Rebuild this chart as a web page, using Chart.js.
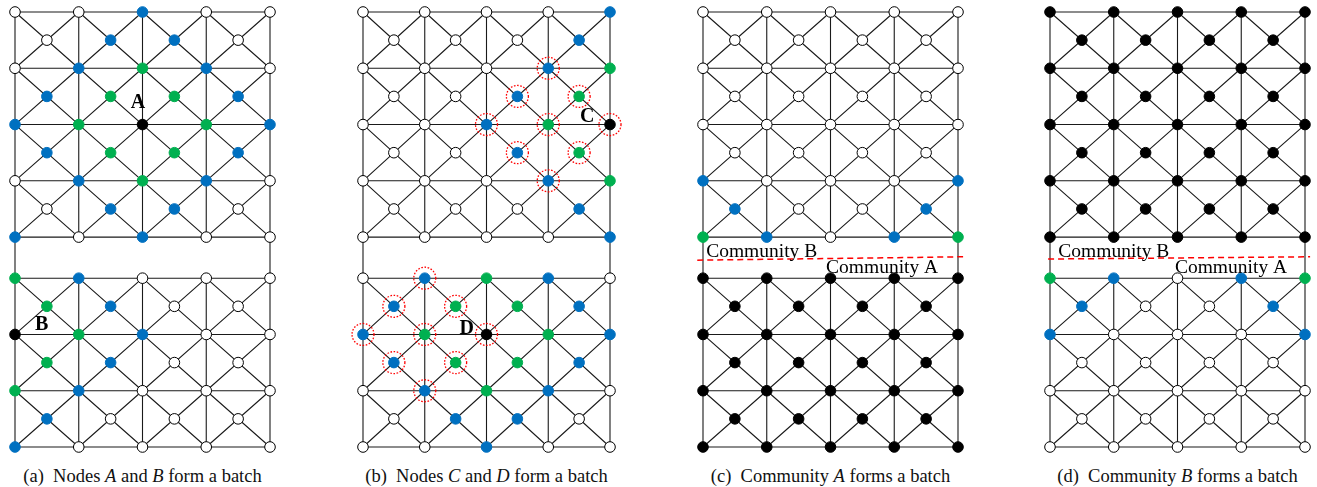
<!DOCTYPE html>
<html>
<head>
<meta charset="utf-8">
<script src="https://cdn.jsdelivr.net/npm/chart.js@4/dist/chart.umd.min.js"></script>
<style>
  body { margin: 0; background: #fff; }
  #wrap { position: relative; width: 1317px; height: 487px; overflow: hidden; }
  .panel { position: absolute; }
  .cap { position: absolute; top: 466px; width: 340px; text-align: center;
         font-family: "Liberation Serif", serif; font-size: 18.5px; color: #111; white-space: pre; }
</style>
</head>
<body>
<div id="wrap"></div>
<script>
// row levels of the graph (top block rows 0-4, bottom block rows 5-8)
const rowY = [0, 1, 2, 3, 4, 4.73, 5.73, 6.73, 7.73];
// cells: pairs of row indices
const cellRows = [[0, 1], [1, 2], [2, 3], [3, 4], [5, 6], [6, 7], [7, 8]];

// node colours: w white, b blue, g green, k black
const cornersA = ["wwbww", "wbgbw", "bgkgb", "wbgbw", "bwbww", "gbwww", "kgbww", "gbwww", "bwwww"];
const centersA = ["wbbw", "bggb", "bggb", "wbbw", "gbww", "gbww", "bwww"];

const cornersB = ["wwwwb", "wwwbg", "wwbgk", "wwwbg", "wwwwb", "wbgbw", "bgkgb", "wbgbw", "wwbww"];
const centersB = ["wwwb", "wwbg", "wwbg", "wwwb", "bggb", "bggb", "wbbw"];
// circled nodes in (b): [column, row level]
const ringsB = [[3, 1], [2.5, 1.5], [3.5, 1.5], [2, 2], [3, 2], [4, 2], [2.5, 2.5], [3.5, 2.5], [3, 3],
                [1, 4.73], [0.5, 5.23], [1.5, 5.23], [0, 5.73], [1, 5.73], [2, 5.73], [0.5, 6.23], [1.5, 6.23], [1, 6.73]];

const cornersC = ["wwwww", "wwwww", "wwwww", "bwwwb", "gbwbg", "kkkkk", "kkkkk", "kkkkk", "kkkkk"];
const centersC = ["wwww", "wwww", "wwww", "bwwb", "kkkk", "kkkk", "kkkk"];

const cornersD = ["kkkkk", "kkkkk", "kkkkk", "kkkkk", "kkkkk", "gbwbg", "bwwwb", "wwwww", "wwwww"];
const centersD = ["kkkk", "kkkk", "kkkk", "kkkk", "bwwb", "wwww", "wwww"];

const dividerC = [{x: -0.09, y: 4.41}, {x: 4.08, y: 4.35}];
const dividerD = [{x: -0.03, y: 4.39}, {x: 4.08, y: 4.35}];

const fills = { w: "#ffffff", b: "#0070c0", g: "#00b050", k: "#000000" };

function buildEdges() {
  const pts = [];
  const seg = (x1, y1, x2, y2) => pts.push({x: x1, y: y1}, {x: x2, y: y2}, {x: null, y: null});
  rowY.forEach(y => { for (let c = 0; c < 4; c++) seg(c, y, c + 1, y); });
  cellRows.forEach(([r1, r2]) => {
    for (let c = 0; c <= 4; c++) seg(c, rowY[r1], c, rowY[r2]);
    for (let c = 0; c < 4; c++) {
      seg(c, rowY[r1], c + 1, rowY[r2]);
      seg(c + 1, rowY[r1], c, rowY[r2]);
    }
  });
  // links between the two blocks
  seg(0, rowY[4], 0, rowY[5]);
  seg(4, rowY[4], 4, rowY[5]);
  return pts;
}

function buildNodes(corners, centers) {
  const pts = [], bg = [], bd = [];
  const add = (x, y, k) => { pts.push({x, y}); bg.push(fills[k]); bd.push(k === "w" ? "#000" : fills[k]); };
  corners.forEach((row, r) => row.split("").forEach((k, c) => add(c, rowY[r], k)));
  centers.forEach((row, i) => {
    const [r1, r2] = cellRows[i];
    row.split("").forEach((k, c) => add(c + 0.5, (rowY[r1] + rowY[r2]) / 2, k));
  });
  return {pts, bg, bd};
}

// text labels and dotted rings drawn at data coordinates
const annot = {
  id: "annot",
  afterDatasetsDraw(chart, args, opts) {
    const {ctx, scales: {x, y}} = chart;
    ctx.save();
    (opts.rings || []).forEach(([cx, cy]) => {
      ctx.beginPath();
      ctx.setLineDash([1.6, 1.6]);
      ctx.strokeStyle = "#ff0000";
      ctx.lineWidth = 1.3;
      ctx.arc(x.getPixelForValue(cx), y.getPixelForValue(cy), 11, 0, Math.PI * 2);
      ctx.stroke();
    });
    ctx.setLineDash([]);
    (opts.labels || []).forEach(l => {
      ctx.font = l.font;
      ctx.fillStyle = "#000";
      ctx.textAlign = l.align;
      ctx.textBaseline = "middle";
      ctx.fillText(l.text, x.getPixelForValue(l.x), y.getPixelForValue(l.y));
    });
    ctx.restore();
  }
};

const bold = 'bold 20px "Liberation Serif"';
const comm = '19.5px "Liberation Serif"';

const panels = [
  {left: 15, right: 270, corners: cornersA, centers: centersA, rings: [], divider: null,
   labels: [{text: "A", x: 1.93, y: 1.62, font: bold, align: "center"},
            {text: "B", x: 0.42, y: 5.56, font: bold, align: "center"}],
   caption: "(a)  Nodes <i>A</i> and <i>B</i> form a batch"},
  {left: 363, right: 610, corners: cornersB, centers: centersB, rings: ringsB, divider: null,
   labels: [{text: "C", x: 3.63, y: 1.87, font: bold, align: "center"},
            {text: "D", x: 1.68, y: 5.63, font: bold, align: "center"}],
   caption: "(b)  Nodes <i>C</i> and <i>D</i> form a batch"},
  {left: 703, right: 958, corners: cornersC, centers: centersC, rings: [], divider: dividerC,
   labels: [{text: "Community B", x: 0.05, y: 4.27, font: comm, align: "left"},
            {text: "Community A", x: 1.93, y: 4.55, font: comm, align: "left"}],
   caption: "(c)  Community <i>A</i> forms a batch"},
  {left: 1050, right: 1305, corners: cornersD, centers: centersD, rings: [], divider: dividerD,
   labels: [{text: "Community B", x: 0.13, y: 4.27, font: comm, align: "left"},
            {text: "Community A", x: 1.96, y: 4.55, font: comm, align: "left"}],
   caption: "(d)  Community <i>B</i> forms a batch"}
];

const wrap = document.getElementById("wrap");
const padX = 22, padY = 14, topPx = 12, bottomPx = 447;

panels.forEach(p => {
  const box = document.createElement("div");
  box.className = "panel";
  box.style.left = (p.left - padX) + "px";
  box.style.top = (topPx - padY) + "px";
  box.style.width = (p.right - p.left + 2 * padX) + "px";
  box.style.height = (bottomPx - topPx + 2 * padY) + "px";
  const cv = document.createElement("canvas");
  box.appendChild(cv);
  wrap.appendChild(box);

  const cap = document.createElement("div");
  cap.className = "cap";
  cap.style.left = ((p.left + p.right) / 2 - 170) + "px";
  cap.innerHTML = p.caption;
  wrap.appendChild(cap);

  const nodes = buildNodes(p.corners, p.centers);
  const datasets = [
    {data: buildEdges(), showLine: true, borderColor: "#1a1a1a", borderWidth: 1.1,
     pointRadius: 0, clip: false, order: 3},
    {data: nodes.pts, pointRadius: 5.3, pointBackgroundColor: nodes.bg, pointBorderColor: nodes.bd,
     pointBorderWidth: 1, showLine: false, clip: false, order: 1}
  ];
  if (p.divider) {
    datasets.push({data: p.divider, showLine: true, borderColor: "#ff0000", borderWidth: 1.5,
                   borderDash: [6, 4], pointRadius: 0, clip: false, order: 2});
  }

  new Chart(cv, {
    type: "scatter",
    data: {datasets},
    options: {
      responsive: true,
      maintainAspectRatio: false,
      animation: false,
      events: [],
      layout: {padding: {left: padX, right: padX, top: padY, bottom: padY}},
      scales: {
        x: {type: "linear", min: 0, max: 4, display: false},
        y: {type: "linear", min: 0, max: rowY[rowY.length - 1], reverse: true, display: false}
      },
      plugins: {
        legend: {display: false},
        tooltip: {enabled: false},
        annot: {rings: p.rings, labels: p.labels}
      }
    },
    plugins: [annot]
  });
});
</script>
</body>
</html>
